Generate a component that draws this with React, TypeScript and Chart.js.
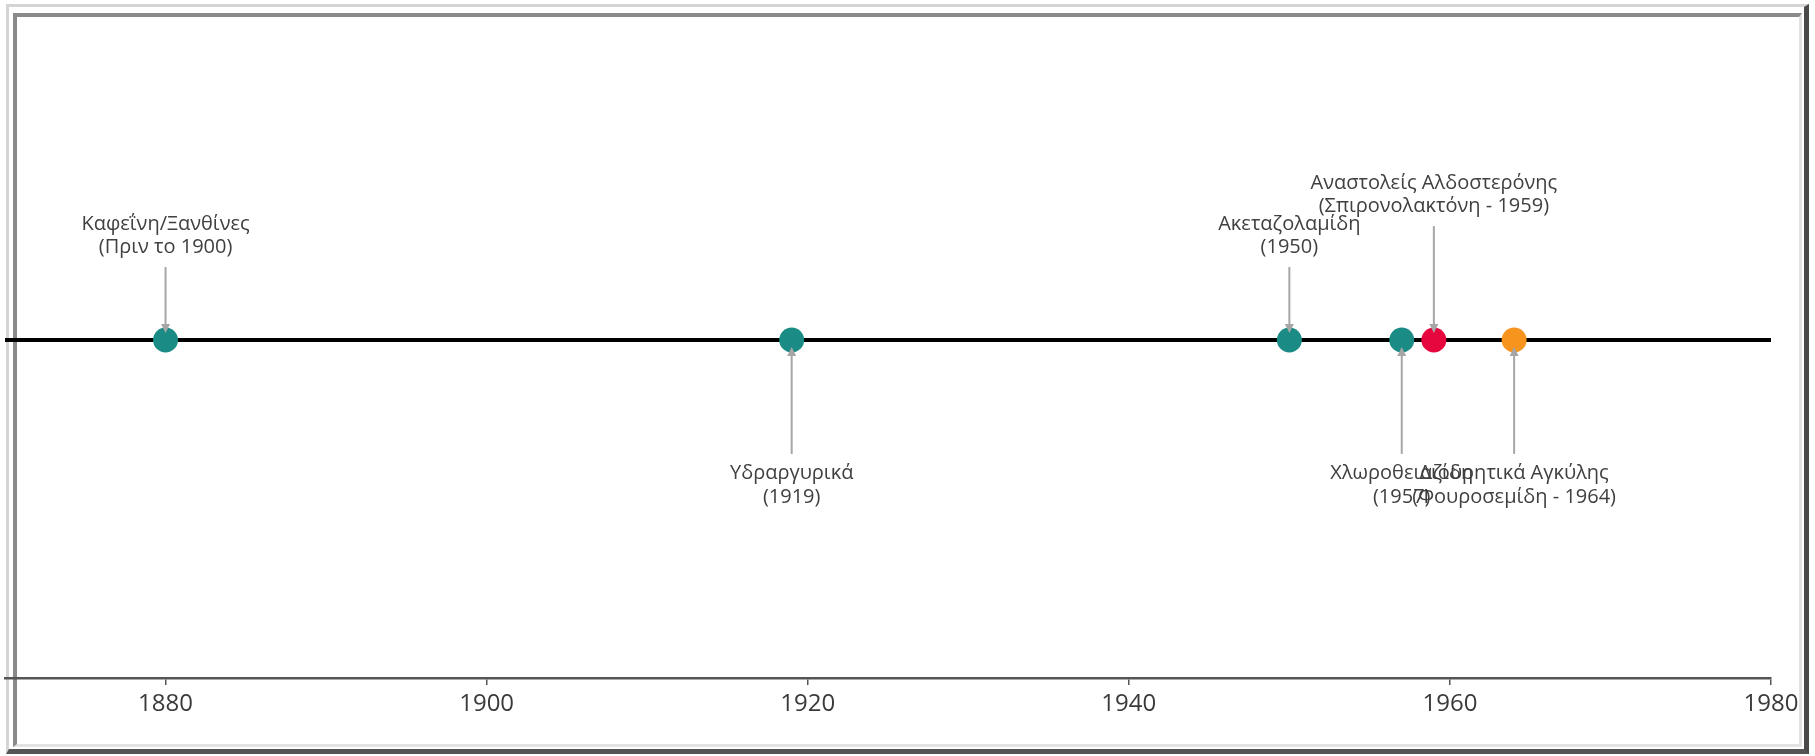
import React, { useEffect, useRef } from "react";
import { Chart, registerables } from "chart.js";

Chart.register(...registerables);

// ---- data ----
const eventYears = [1880, 1919, 1950, 1957, 1959, 1964];
const eventTitles = [
  "Καφεΐνη/Ξανθίνες",
  "Υδραργυρικά",
  "Ακεταζολαμίδη",
  "Χλωροθειαζίδη",
  "Αναστολείς Αλδοστερόνης",
  "Διουρητικά Αγκύλης",
];
const eventSubtitles = [
  "(Πριν το 1900)",
  "(1919)",
  "(1950)",
  "(1957)",
  "(Σπιρονολακτόνη - 1959)",
  "(Φουροσεμίδη - 1964)",
];
const labelLevels = [0.216, -0.337, 0.216, -0.337, 0.337, -0.337];
const eventColors = ["#1b8b86", "#1b8b86", "#1b8b86", "#1b8b86", "#e6073f", "#f7941d"];
const tickYears = [1880, 1900, 1920, 1940, 1960, 1980];
const axisMin = 1870;
const axisMax = 1980;

const FONT = "'Open Sans', 'Noto Sans', sans-serif";

const stemPlugin = {
  id: "stems",
  afterDatasetsDraw(chart: any) {
    const ctx = chart.ctx;
    const xs = chart.scales.x;
    const ys = chart.scales.y;
    const y0 = ys.getPixelForValue(0);
    eventYears.forEach((yr, i) => {
      const x = xs.getPixelForValue(yr);
      const yEnd = ys.getPixelForValue(labelLevels[i]);
      const up = labelLevels[i] > 0;
      const dir = up ? -1 : 1;
      const tip = y0 + dir * 7;
      ctx.save();
      ctx.strokeStyle = "#a6a6a6";
      ctx.fillStyle = "#a6a6a6";
      ctx.lineWidth = 2;
      ctx.beginPath();
      ctx.moveTo(x, yEnd);
      ctx.lineTo(x, tip + dir * 6);
      ctx.stroke();
      ctx.beginPath();
      ctx.moveTo(x, tip);
      ctx.lineTo(x - 4.5, tip + dir * 9);
      ctx.lineTo(x + 4.5, tip + dir * 9);
      ctx.closePath();
      ctx.fill();
      ctx.font = "20px " + FONT;
      ctx.fillStyle = "#404040";
      ctx.textAlign = "center";
      ctx.textBaseline = "middle";
      if (up) {
        ctx.fillText(eventSubtitles[i], x, yEnd - 20);
        ctx.fillText(eventTitles[i], x, yEnd - 43);
      } else {
        ctx.fillText(eventTitles[i], x, yEnd + 19);
        ctx.fillText(eventSubtitles[i], x, yEnd + 43);
      }
      ctx.restore();
    });
  },
};

export default function App() {
  const ref = useRef<HTMLCanvasElement | null>(null);

  useEffect(() => {
    if (!ref.current) return;
    const chart = new Chart(ref.current, {
      type: "scatter",
      data: {
        datasets: [
          {
            type: "line",
            data: [
              { x: axisMin, y: 0 },
              { x: axisMax, y: 0 },
            ],
            borderColor: "#000000",
            borderWidth: 4,
            pointRadius: 0,
            order: 2,
          } as any,
          {
            data: eventYears.map((x) => ({ x, y: 0 })),
            backgroundColor: eventColors,
            borderColor: eventColors,
            pointRadius: 12.5,
            pointBorderWidth: 0,
            order: 1,
          },
        ],
      },
      plugins: [stemPlugin],
      options: {
        animation: false,
        responsive: false,
        maintainAspectRatio: false,
        devicePixelRatio: 1,
        layout: { autoPadding: false, padding: { left: 5, right: 44, top: 2, bottom: 0 } },
        plugins: { legend: { display: false }, tooltip: { enabled: false } },
        scales: {
          x: {
            type: "linear",
            min: axisMin,
            max: axisMax,
            afterBuildTicks: (axis: any) => {
              axis.ticks = tickYears.map((v) => ({ value: v }));
            },
            afterFit: (axis: any) => {
              axis.height = 78;
            },
            grid: {
              drawOnChartArea: false,
              drawTicks: true,
              tickLength: 7,
              color: "#555555",
              lineWidth: 1.5,
            },
            border: { display: true, color: "#555555", width: 2.5 },
            ticks: {
              padding: 5,
              color: "#3a3a3a",
              font: { family: FONT, size: 24 },
              maxRotation: 0,
              callback: (v: any) => String(v),
            },
          },
          y: {
            display: false,
            min: -1,
            max: 1,
          },
        },
      },
    });
    return () => chart.destroy();
  }, []);

  return (
    <div style={{ position: "fixed", left: 0, top: 0, width: 1815, height: 756, background: "#ffffff" }}>
      <div
        style={{
          position: "absolute",
          left: 6,
          top: 4,
          width: 1803,
          height: 750,
          boxSizing: "border-box",
          borderStyle: "solid",
          borderWidth: "3px 5px 5px 3px",
          borderColor: "#d4d4d4 #4a4a4a #555555 #d4d4d4",
        }}
      >
        <div
          style={{
            position: "absolute",
            left: 4,
            top: 6,
            right: 2,
            bottom: 2,
            boxSizing: "border-box",
            borderStyle: "solid",
            borderWidth: "4px 3px 3px 4px",
            borderColor: "#8a8a8a #e2e2e2 #e2e2e2 #8a8a8a",
          }}
        />
      </div>
      <canvas
        ref={ref}
        width={1815}
        height={756}
        style={{ position: "absolute", left: 0, top: 0, width: 1815, height: 756 }}
      />
    </div>
  );
}
